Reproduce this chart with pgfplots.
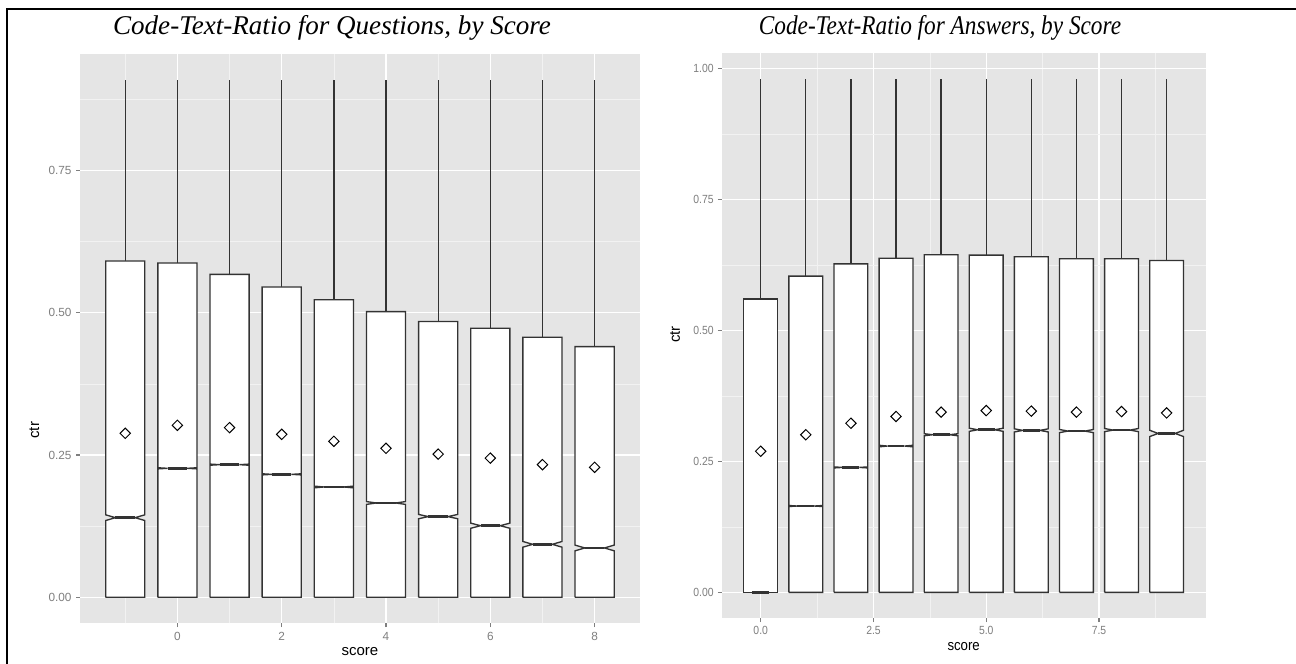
\documentclass[border=0pt]{standalone}
\usepackage{fontspec}
\setmainfont{Liberation Sans}
\newfontfamily\titlefont{Liberation Serif}
\usepackage{pgfplots}
\pgfplotsset{compat=1.18}
\definecolor{panelbg}{HTML}{E5E5E5}
\definecolor{gridminor}{HTML}{F2F2F2}
\definecolor{tickgrey}{HTML}{7F7F7F}
\definecolor{boxline}{HTML}{333333}
\pgfplotsset{
  gg/.style={
    scale only axis,
    anchor=south west,
    axis background/.style={fill=panelbg},
    axis line style={draw=none},
    grid=both,
    major grid style={draw=white, line width=0.9pt},
    minor grid style={draw=gridminor, line width=0.45pt},
    tick pos=left,
    tick align=outside,
    major tick length=3pt,
    minor tick length=0pt,
    tick style={tickgrey, line width=0.8pt},
    tick label style={font=\fontsize{8.85}{10}\selectfont, text=tickgrey},
    label style={font=\fontsize{11.25}{13}\selectfont, text=black},
    xlabel=score, ylabel=ctr,
  },
  boxst/.style={draw=boxline, fill=white, line width=1.0pt, line join=miter},
  whisk/.style={draw=boxline, line width=1.0pt},
  medst/.style={draw=boxline, line width=1.9pt},
  meanst/.style={only marks, mark=square, mark size=2.75pt,
    mark options={rotate=45, draw=black, fill=none, line width=0.75pt}},
}
% notched box: #1 x, #2 q1, #3 median, #4 q3, #5 notch half-height, #6 upper whisker
\newcommand\nbox[6]{%
  \pgfmathsetmacro\xl{#1-0.375}%
  \pgfmathsetmacro\xr{#1+0.375}%
  \pgfmathsetmacro\xil{#1-0.1875}%
  \pgfmathsetmacro\xir{#1+0.1875}%
  \pgfmathsetmacro\nl{#3-#5}%
  \pgfmathsetmacro\nu{#3+#5}%
  \edef\tmp{%
    \noexpand\addplot[whisk] coordinates {(#1,#4) (#1,#6)};
    \noexpand\addplot[boxst] coordinates {(\xl,#2) (\xl,\nl) (\xil,#3) (\xl,\nu) (\xl,#4) (\xr,#4) (\xr,\nu) (\xir,#3) (\xr,\nl) (\xr,#2) (\xl,#2)};
    \noexpand\addplot[medst] coordinates {(\xil,#3) (\xir,#3)};
  }\tmp
}
\begin{document}
\begin{tikzpicture}
\useasboundingbox (0,0) rectangle (972pt,498pt);
\fill[white] (0,0) rectangle (972pt,498pt);
\draw[line width=1.9pt] (5.25pt,0) -- (5.25pt,491.25pt) -- (972pt,491.25pt);
\node[anchor=base, font=\titlefont\itshape\fontsize{20.3}{24}\selectfont] at (249pt,471.75pt) {Code-Text-Ratio for Questions, by Score};
\node[anchor=base, xscale=0.86, font=\titlefont\itshape\fontsize{20.3}{24}\selectfont] at (705pt,471.75pt) {Code-Text-Ratio for Answers, by Score};

\begin{axis}[gg, at={(60.2pt,30.6pt)}, width=419.5pt, height=427pt,
  xmin=-1.8625, xmax=8.8625, ymin=-0.04545, ymax=0.95454,
  xtick={0,2,4,6,8}, xticklabels={0,2,4,6,8}, minor xtick={-1,1,3,5,7},
  ytick={0,0.25,0.5,0.75}, yticklabels={0.00,0.25,0.50,0.75},
  minor ytick={0.125,0.375,0.625,0.875},
  xlabel style={at={(axis description cs:0.5,-0.0506)}, anchor=center},
  ylabel style={at={(axis description cs:-0.082,0.339)}, anchor=center},
]
\nbox{-1}{0}{0.1399}{0.5908}{0.005}{0.909}
\nbox{0}{0}{0.2266}{0.5872}{0.001}{0.909}
\nbox{1}{0}{0.2330}{0.5673}{0.001}{0.909}
\nbox{2}{0}{0.2160}{0.5451}{0.001}{0.909}
\nbox{3}{0}{0.1938}{0.5228}{0.0015}{0.909}
\nbox{4}{0}{0.1657}{0.5018}{0.0025}{0.909}
\nbox{5}{0}{0.1418}{0.4845}{0.0038}{0.909}
\nbox{6}{0}{0.1258}{0.4725}{0.0045}{0.909}
\nbox{7}{0}{0.0931}{0.4567}{0.005}{0.909}
\nbox{8}{0}{0.0867}{0.4403}{0.005}{0.909}
\addplot[meanst] coordinates {(-1,0.2881) (0,0.3021) (1,0.2980) (2,0.2863) (3,0.2740)
  (4,0.2617) (5,0.2515) (6,0.2445) (7,0.2330) (8,0.2283)};
\end{axis}

\begin{axis}[gg, at={(541.35pt,34.5pt)}, width=362.8pt, height=423.45pt,
  xmin=-0.8625, xmax=9.8625, ymin=-0.049, ymax=1.029,
  xtick={0,2.5,5,7.5}, xticklabels={0.0,2.5,5.0,7.5}, minor xtick={1.25,3.75,6.25,8.75},
  ytick={0,0.25,0.5,0.75,1}, yticklabels={0.00,0.25,0.50,0.75,1.00},
  minor ytick={0.125,0.375,0.625,0.875},
  tick label style={xscale=0.88},
  xlabel style={at={(axis description cs:0.5,-0.0505)}, anchor=center, xscale=0.88},
  ylabel style={at={(axis description cs:-0.0968,0.502)}, anchor=center},
]
\nbox{0}{0}{0.0}{0.5598}{0}{0.980}
\nbox{1}{0}{0.1648}{0.6037}{0.001}{0.980}
\nbox{2}{0}{0.2385}{0.6272}{0.001}{0.980}
\nbox{3}{0}{0.2793}{0.6380}{0.0015}{0.980}
\nbox{4}{0}{0.3009}{0.6444}{0.002}{0.980}
\nbox{5}{0}{0.3104}{0.6438}{0.003}{0.980}
\nbox{6}{0}{0.3092}{0.6406}{0.003}{0.980}
\nbox{7}{0}{0.3079}{0.6368}{0.003}{0.980}
\nbox{8}{0}{0.3098}{0.6368}{0.003}{0.980}
\nbox{9}{0}{0.3034}{0.6336}{0.006}{0.980}
\addplot[meanst] coordinates {(0,0.2694) (1,0.3009) (2,0.3228) (3,0.3358) (4,0.3441)
  (5,0.3470) (6,0.3460) (7,0.3441) (8,0.3451) (9,0.3425)};
\end{axis}
\end{tikzpicture}
\end{document}
